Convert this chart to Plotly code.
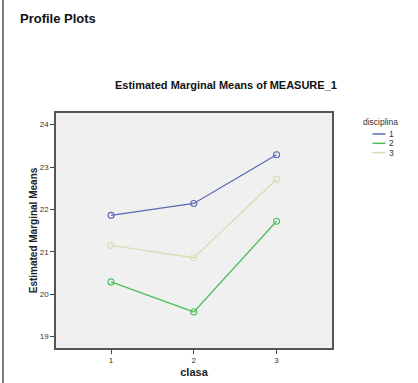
import plotly.graph_objects as go

clasa = [1, 2, 3]
series_names = ["1", "2", "3"]
disciplina_1 = [21.86, 22.14, 23.29]
disciplina_2 = [20.29, 19.58, 21.72]
disciplina_3 = [21.15, 20.86, 22.71]
colors = ["#5a68b4", "#4fbf5a", "#dcdcb4"]
y_ticks = [19, 20, 21, 22, 23, 24]

W, H = 418, 383
L, R, T, B = 56, 86, 113, 35
PW, PH = W - L - R, H - T - B


def px(xp):
    return (xp - L) / PW


def py(yp):
    return 1 - (yp - T) / PH


fig = go.Figure()
for name, vals, col in zip(series_names, [disciplina_1, disciplina_2, disciplina_3], colors):
    fig.add_trace(go.Scatter(
        x=clasa, y=vals, name=name, mode="lines+markers", showlegend=False,
        line=dict(color=col, width=1.3),
        marker=dict(symbol="circle-open", size=6, color=col, line=dict(width=1.1)),
        hoverinfo="skip",
    ))

shapes = [
    dict(type="line", xref="paper", yref="paper",
         x0=px(3), x1=px(3), y0=py(H + 5), y1=py(-5),
         line=dict(color="#808080", width=2)),
]
annotations = [
    dict(text="<b>Profile Plots</b>", xref="paper", yref="paper",
         x=px(18), y=py(18), xanchor="left", yanchor="middle", showarrow=False,
         font=dict(size=13, color="#111")),
    dict(text="<b>Estimated Marginal Means of MEASURE_1</b>", xref="paper", yref="paper",
         x=px(226), y=py(85), xanchor="center", yanchor="middle", showarrow=False,
         font=dict(size=11, color="#111")),
    dict(text="disciplina", xref="paper", yref="paper",
         x=px(380), y=py(122), xanchor="center", yanchor="middle", showarrow=False,
         font=dict(size=8.5, color="#333")),
]
for i, (name, col) in enumerate(zip(series_names, colors)):
    yy = 134 + 9.3 * i
    shapes.append(dict(type="line", xref="paper", yref="paper",
                       x0=px(372.5), x1=px(385.5), y0=py(yy), y1=py(yy),
                       line=dict(color=col, width=1.5)))
    annotations.append(dict(text=name, xref="paper", yref="paper",
                            x=px(387.5), y=py(yy), xanchor="left", yanchor="middle",
                            showarrow=False, font=dict(size=8.5, color="#333")))

fig.update_layout(
    width=W, height=H,
    margin=dict(l=L, r=R, t=T, b=B),
    paper_bgcolor="white", plot_bgcolor="#f0f0f0",
    font=dict(family="Liberation Sans, Arial", color="#222"),
    showlegend=False,
    hovermode=False,
    xaxis=dict(
        range=[0.335, 3.67], tickvals=clasa, ticktext=[str(c) for c in clasa],
        ticks="outside", ticklen=4, tickcolor="#444", tickfont=dict(size=8, color="#333"),
        showgrid=False, zeroline=False, showline=True, linecolor="#555", linewidth=1.5,
        mirror=True, automargin=False,
        title=dict(text="<b>clasa</b>", font=dict(size=11, color="#222"), standoff=4),
    ),
    yaxis=dict(
        range=[18.73, 24.275], tickvals=y_ticks,
        ticks="outside", ticklen=4, tickcolor="#444", tickfont=dict(size=8, color="#333"),
        showgrid=False, zeroline=False, showline=True, linecolor="#555", linewidth=1.5,
        mirror=True, automargin=False,
        title=dict(text="<b>Estimated Marginal Means</b>", font=dict(size=10, color="#222"), standoff=0),
    ),
    annotations=annotations,
    shapes=shapes,
)

fig.write_html("out.html", config={"displayModeBar": False},
               post_script="document.body.style.margin='0';document.body.style.padding='0';")
